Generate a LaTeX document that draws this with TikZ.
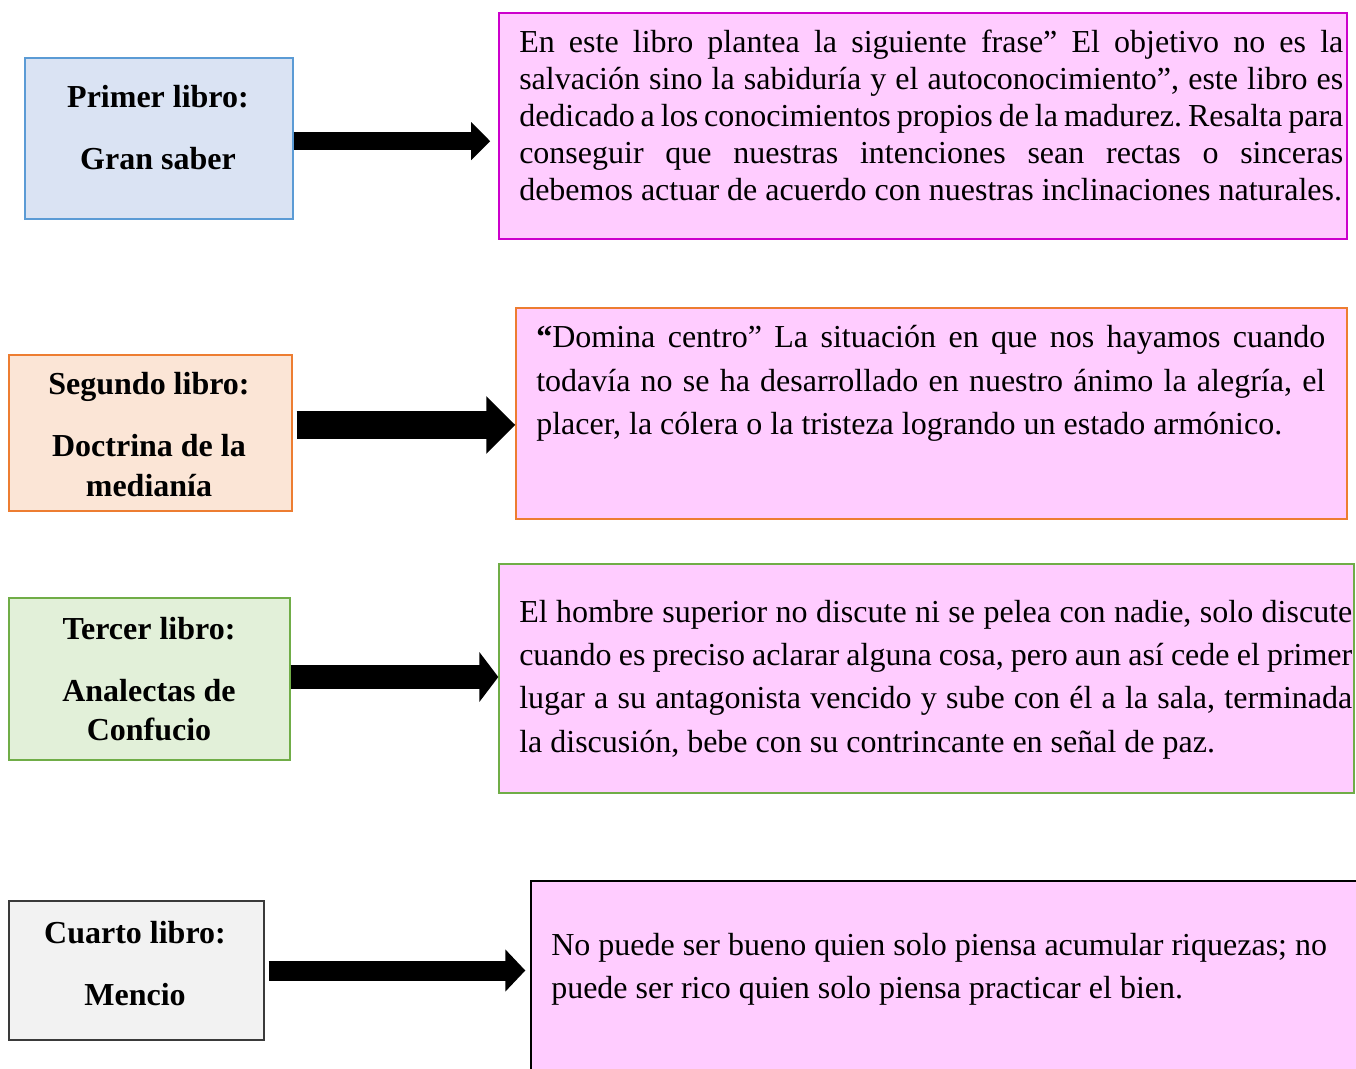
\documentclass[tikz,border=0pt]{standalone}
\usepackage{fontspec}
\setmainfont{Liberation Serif}
\usepackage{tikz}
\usetikzlibrary{arrows.meta}
\usepackage{xcolor}
\definecolor{azulfondo}{HTML}{DAE3F3}
\definecolor{azulborde}{HTML}{5B9BD5}
\definecolor{naranjafondo}{HTML}{FBE5D6}
\definecolor{naranjaborde}{HTML}{ED7D31}
\definecolor{verdefondo}{HTML}{E2F0D9}
\definecolor{verdeborde}{HTML}{70AD47}
\definecolor{grisfondo}{HTML}{F2F2F2}
\definecolor{grisborde}{HTML}{3A3A3A}
\definecolor{rosa}{HTML}{FFCCFF}
\definecolor{magenta}{HTML}{CC00CC}

\begin{document}
\frenchspacing
\begin{tikzpicture}[x=0.75pt, y=-0.75pt]
      \tikzstyle{libro}=[draw, rectangle, line width=1pt, inner sep=0pt]
      \tikzstyle{titulo}=[font={\bfseries\fontsize{24}{29.5}\selectfont}, align=flush center, text width=200pt, anchor=base, inner sep=0pt, execute at begin node={\spaceskip=0pt\xspaceskip=0pt}]
      \tikzstyle{desc}=[draw, rectangle, fill=rosa, line width=1pt, inner sep=0pt]
      \tikzstyle{texto}=[font={\fontsize{24}{32.5}\selectfont}, align=justify, anchor=base west, inner sep=0pt, execute at begin node={\spaceskip=0pt\xspaceskip=0pt}]
      \tikzset{flecha/.style n args={3}{draw, line width=#1, -{Triangle[width=#2, length=#3]}}}

      \useasboundingbox (0,0) rectangle (1356,1069);
      \clip (0,0) rectangle (1356,1069);

      % Primer libro
      \node[libro, fill=azulfondo, draw=azulborde, minimum width=201pt, minimum height=120.75pt] (libro1) at (159,138.5) {};
      \node[titulo] (tit1) at (158,107.5) {Primer libro:\\[17pt]Gran saber};
      \node[desc, draw=magenta, line width=1.2pt, minimum width=636pt, minimum height=169.5pt] (desc1) at (923,126) {};
      \node[texto, text width=618pt, font={\fontsize{24}{27.75}\selectfont}] (txt1) at (519,53) {En este libro plantea la siguiente frase” El objetivo no es la \linebreak salvación sino la sabiduría  y el autoconocimiento”, este libro es \linebreak dedicado a los conocimientos propios de la madurez. Resalta para \linebreak conseguir que nuestras intenciones sean rectas o sinceras \linebreak debemos actuar de acuerdo con nuestras inclinaciones naturales.};
      \draw[flecha={13.5pt}{27.75pt}{14.25pt}, shorten >=6pt] ([yshift=-2pt]libro1.east) -- ([yshift=-2pt]libro1.east -| desc1.west);

      % Segundo libro
      \node[libro, fill=naranjafondo, draw=naranjaborde, minimum width=212.25pt, minimum height=117pt] (libro2) at (150.5,433) {};
      \node[titulo] (tit2) at (149,395) {Segundo libro:\\[17pt]Doctrina de la\\medianía};
      \node[desc, draw=naranjaborde, minimum width=623.25pt, minimum height=158.25pt] (desc2) at (931.5,413.5) {};
      \node[texto, text width=591.75pt] (txt2) at (536,348) {{\bfseries “}Domina centro” La situación en que nos hayamos cuando \linebreak todavía no se ha desarrollado en nuestro ánimo la alegría, el \linebreak placer, la cólera o la tristeza logrando un estado armónico.};
      \draw[flecha={20.6pt}{42pt}{21.75pt}, shorten <=3pt] ([yshift=6pt]libro2.east) -- ([yshift=6pt]libro2.east -| desc2.west);

      % Tercer libro
      \node[libro, fill=verdefondo, draw=verdeborde, minimum width=210.75pt, minimum height=121.5pt] (libro3) at (149.5,679) {};
      \node[titulo] (tit3) at (149,639) {Tercer libro:\\[17pt]Analectas de\\Confucio};
      \node[desc, draw=verdeborde, minimum width=641.25pt, minimum height=171.75pt] (desc3) at (926.5,678.5) {};
      \node[texto, text width=624.75pt] (txt3) at (519,622) {El hombre superior no discute ni se pelea con nadie, solo discute \linebreak cuando es preciso aclarar alguna cosa, pero aun así cede el primer \linebreak lugar a su antagonista vencido y sube con él a la sala, terminada \linebreak la discusión, bebe con su contrincante en señal de paz.};
      \draw[flecha={18pt}{36.75pt}{14.25pt}] ([yshift=1.5pt]libro3.east) -- ([yshift=1.5pt]libro3.east -| desc3.west);

      % Cuarto libro
      \node[libro, fill=grisfondo, draw=grisborde, minimum width=191.25pt, minimum height=104.25pt] (libro4) at (136.5,970.5) {};
      \node[titulo] (tit4) at (135,943) {Cuarto libro:\\[17pt]Mencio};
      \node[desc, draw=black, minimum width=629.25pt, minimum height=156.75pt] (desc4) at (950.5,985.5) {};
      \node[texto, align=flush left, text width=620pt] (txt4) at (551,955) {No puede ser bueno quien solo piensa acumular riquezas; no\\puede ser rico quien solo piensa practicar el bien.};
      \draw[flecha={15pt}{30.75pt}{15pt}, shorten <=3pt, shorten >=3.75pt] (libro4.east) -- (libro4.east -| desc4.west);
    \end{tikzpicture}
\end{document}
